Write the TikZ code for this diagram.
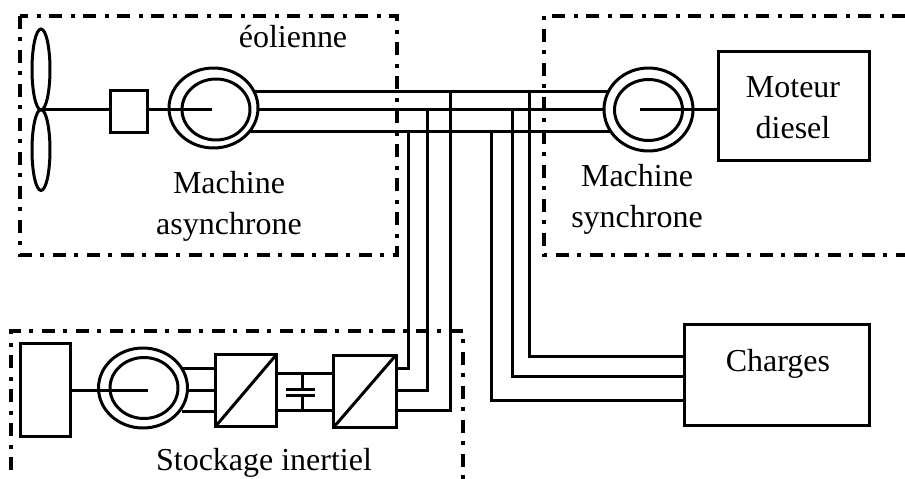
\documentclass[tikz,border=0pt]{standalone}
\usepackage{fontspec}
\setmainfont{Liberation Serif}
\usetikzlibrary{shapes,positioning,calc}
\tikzset{
  wire/.style={line width=0.06cm},
  zone/.style={line width=0.07cm,dash pattern=on 0.26cm off 0.17cm on 0.08cm off 0.17cm},
  bloc/.style={draw,line width=0.06cm,inner sep=0,outer sep=0},
  pale/.style={draw,ellipse,line width=0.06cm,inner sep=0,outer sep=0,minimum width=0.36cm,minimum height=1.62cm},
  stator/.style={draw,ellipse,line width=0.06cm,inner sep=0,outer sep=0,minimum width=1.78cm,minimum height=1.6cm},
  rotor/.style={draw,ellipse,line width=0.06cm,inner sep=0,outer sep=0,minimum width=1.36cm,minimum height=1.22cm},
  txt/.style={font=\fontsize{18.2}{23.3}\selectfont,align=center,inner sep=0},
}
\begin{document}
\begin{tikzpicture}[x=0.02cm,y=-0.02cm]
    \useasboundingbox (0,0) rectangle (905,479);

    % zones
    \draw[zone] (20,16) rectangle (397,255);
    \draw[zone] (905,16) -- (544,16) -- (544,255) -- (905,255);
    \draw[zone] (11,470) -- (11,331) -- (463,331) -- (463,479);

    % eolienne
    \node[pale] (pale1) at (41,69.5) {};
    \node[pale] (pale2) at (41,150) {};
    \node[bloc,minimum width=0.76cm,minimum height=0.86cm] (mult) at (129,111.5) {};
    \node[stator] (mas) at (213.5,108) {};
    \node[rotor] (masr) at (216,109.5) {};
    \coordinate (masc) at (212,110);
    \draw[wire] (pale1.south) -- (mult.west |- pale1.south);
    \draw[wire] (mult.east |- masc) -- (masc);
    \node[txt] (mastxt) at (229,206) {Machine\\asynchrone};
    \node[txt] (eol) at (293,37) {éolienne};

    % diesel
    \node[stator,minimum height=1.66cm] (ms) at (648.5,109.5) {};
    \node[rotor] (msr) at (648.5,110) {};
    \node[bloc,minimum width=3.02cm,minimum height=2.2cm] (diesel) at (793.5,106) {};
    \coordinate (msc) at (640,110);
    \draw[wire] (msc) -- (diesel.west |- msc);
    \node[txt] (dieseltxt) at (793,108) {Moteur\\diesel};
    \node[txt] (mstxt) at (637,199) {Machine\\synchrone};

    % bus
    \coordinate (busa) at (254,92);
    \coordinate (busb) at (258,110);
    \coordinate (busc) at (249,132);
    \coordinate (busd) at (608,92);
    \coordinate (buse) at (604,110);
    \coordinate (busf) at (612,132);
    \draw[wire] (busa) -- (busd);
    \draw[wire] (busb) -- (buse);
    \draw[wire] (busc) -- (busf);

    % charges
    \node[bloc,minimum width=3.72cm,minimum height=2.04cm] (charges) at (777,375) {};
    \node[txt] (chtxt) at (778,364) {Charges};
    \coordinate (cha) at (529,92);
    \coordinate (chb) at (512,110);
    \coordinate (chc) at (491,132);
    \draw[wire] (cha) |- (charges.west |- 0,356);
    \draw[wire] (chb) |- (charges.west |- 0,376);
    \draw[wire] (chc) |- (charges.west |- 0,400);

    % stockage
    \node[bloc,minimum width=1.02cm,minimum height=1.88cm] (volant) at (45.5,390) {};
    \node[stator] (mst) at (143,388) {};
    \node[rotor] (mstr) at (144,388) {};
    \coordinate (mstc) at (148,390);
    \draw[wire] (volant.east |- mstc) -- (mstc);
    \node[bloc,minimum width=1.24cm,minimum height=1.46cm] (conv1) at (246,390.5) {};
    \node[bloc,minimum width=1.26cm,minimum height=1.46cm] (conv2) at (364.5,391.5) {};
    \draw[wire] (conv1.south west) -- (conv1.north east);
    \draw[wire] (conv2.south west) -- (conv2.north east);
    \draw[wire] (182,368) -- (conv1.west |- 0,368);
    \draw[wire] (mst.east |- 0,390) -- (conv1.west |- 0,390);
    \draw[wire] (182,411) -- (conv1.west |- 0,411);
    \draw[wire] (conv1.east |- 0,373) -- (conv2.west |- 0,373);
    \draw[wire] (conv1.east |- 0,410) -- (conv2.west |- 0,410);

    % condensateur
    \coordinate (capa) at (302,389);
    \coordinate (capb) at (302,395);
    \draw[wire] (capa) -- (302,373);
    \draw[wire] (capb) -- (302,410);
    \draw[wire] ($(capa)+(-16,0)$) -- ($(capa)+(13,0)$);
    \draw[wire] ($(capb)+(-16,0)$) -- ($(capb)+(13,0)$);

    % sorties
    \coordinate (bata) at (450,92);
    \coordinate (batb) at (427,110);
    \coordinate (batc) at (408,132);
    \draw[wire] (batc) |- (conv2.east |- 0,368);
    \draw[wire] (batb) |- (conv2.east |- 0,390);
    \draw[wire] (bata) |- (conv2.east |- 0,410);
    \node[txt] (sttxt) at (264,463) {Stockage inertiel};
  \end{tikzpicture}
\end{document}
